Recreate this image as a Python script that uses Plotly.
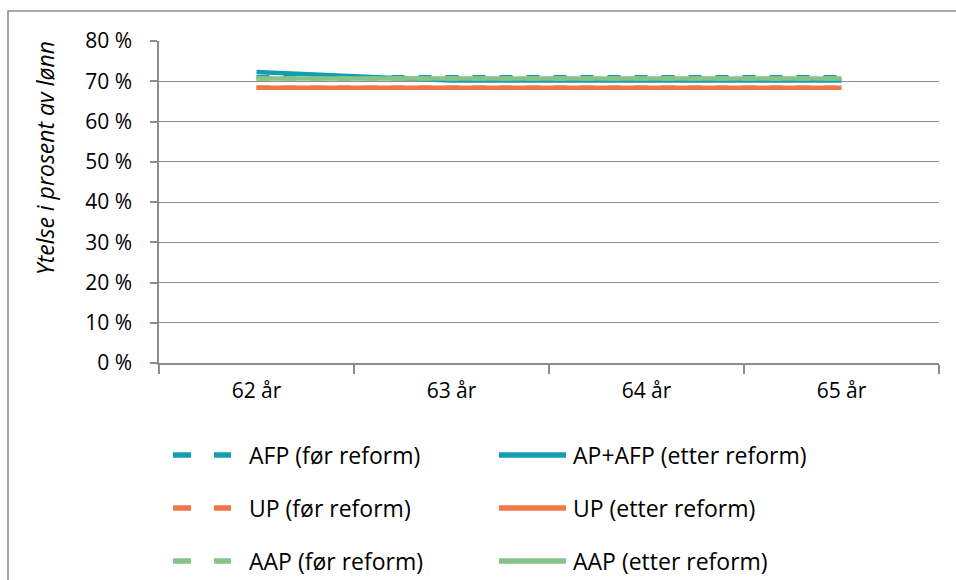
import plotly.graph_objects as go

# Categories (age) and replacement rates in percent of wage
ages = ["62 år", "63 år", "64 år", "65 år"]

afp_for = [71.0, 71.0, 71.0, 71.0]
ap_afp_etter = [72.3, 70.2, 70.2, 70.2]
up_for = [68.4, 68.4, 68.4, 68.4]
up_etter = [68.4, 68.4, 68.4, 68.4]
aap_for = [70.7, 70.7, 70.7, 70.7]
aap_etter = [70.7, 70.7, 70.7, 70.7]

names = [
    "AFP (før reform)", "AP+AFP (etter reform)",
    "UP (før reform)", "UP (etter reform)",
    "AAP (før reform)", "AAP (etter reform)",
]
series = [afp_for, ap_afp_etter, up_for, up_etter, aap_for, aap_etter]
colors = ["#129DB0", "#129DB0", "#F07747", "#F07747", "#86C389", "#86C389"]
dashed = [True, False, True, False, True, False]

y_ticks = [0, 10, 20, 30, 40, 50, 60, 70, 80]
y_tick_text = [f"{v} %" for v in y_ticks]

FONT = "Open Sans"
W, H = 956, 580
L, R, T, B = 159, 17, 41, 217
PW, PH = W - L - R, H - T - B

def px_x(px):
    return (px - L) / PW

def px_y(py):
    return (H - B - py) / PH

DASH = "13px,14px"

fig = go.Figure()
for name, vals, col, d in zip(names, series, colors, dashed):
    fig.add_trace(go.Scatter(
        x=ages, y=vals, name=name, mode="lines",
        line=dict(color=col, width=4.5, dash=DASH if d else "solid"),
        showlegend=False, hoverinfo="x+y+name",
    ))

shapes = []
annotations = []

# Outer chart frame
shapes.append(dict(type="rect", xref="paper", yref="paper",
                   x0=px_x(8), x1=px_x(965), y0=px_y(11), y1=px_y(600),
                   line=dict(color="#8C8C8C", width=1.5), layer="below"))

# Legend: two columns, three rows
row_y = [455, 508, 561]
for i, (name, col, d) in enumerate(zip(names, colors, dashed)):
    r, c = divmod(i, 2)
    yy = px_y(row_y[r])
    if c == 0:
        for x0, x1 in [(173, 191), (214, 231)]:
            shapes.append(dict(type="line", xref="paper", yref="paper",
                               x0=px_x(x0), x1=px_x(x1), y0=yy, y1=yy,
                               line=dict(color=col, width=5.5)))
        tx = 247
    else:
        shapes.append(dict(type="line", xref="paper", yref="paper",
                           x0=px_x(499), x1=px_x(566), y0=yy, y1=yy,
                           line=dict(color=col, width=5.5)))
        tx = 571
    annotations.append(dict(text=name, xref="paper", yref="paper",
                            x=px_x(tx), y=yy, xanchor="left", yanchor="middle",
                            showarrow=False,
                            font=dict(family=FONT, size=23, color="#000000")))

# Y-axis title
annotations.append(dict(text="<i>Ytelse i prosent av lønn</i>", xref="paper", yref="paper",
                        x=px_x(45), y=px_y(158), xanchor="center", yanchor="middle",
                        textangle=-90, showarrow=False,
                        font=dict(family=FONT, size=23, color="#000000")))

fig.update_layout(
    width=W, height=H,
    margin=dict(l=L, r=R, t=T, b=B),
    paper_bgcolor="white", plot_bgcolor="white",
    font=dict(family=FONT, size=21, color="#000000"),
    shapes=shapes, annotations=annotations,
    showlegend=False,
    xaxis=dict(
        type="category", categoryorder="array", categoryarray=ages,
        tickson="boundaries", ticks="outside", ticklen=9, tickwidth=1.5,
        tickcolor="#8C8C8C", showline=True, linecolor="#8C8C8C", linewidth=1.5,
        showgrid=False, zeroline=False, ticklabelstandoff=8,
        tickfont=dict(family=FONT, size=21, color="#000000"),
        range=[-0.5, 3.5],
    ),
    yaxis=dict(
        range=[0, 80], tickmode="array", tickvals=y_ticks, ticktext=y_tick_text,
        ticks="outside", ticklen=7, tickwidth=1.5, tickcolor="#8C8C8C",
        showline=True, linecolor="#8C8C8C", linewidth=1.5,
        showgrid=True, gridcolor="#8C8C8C", gridwidth=1.2,
        zeroline=False, ticklabelstandoff=14,
        tickfont=dict(family=FONT, size=21, color="#000000"),
    ),
)

fig.write_html("out.html")
